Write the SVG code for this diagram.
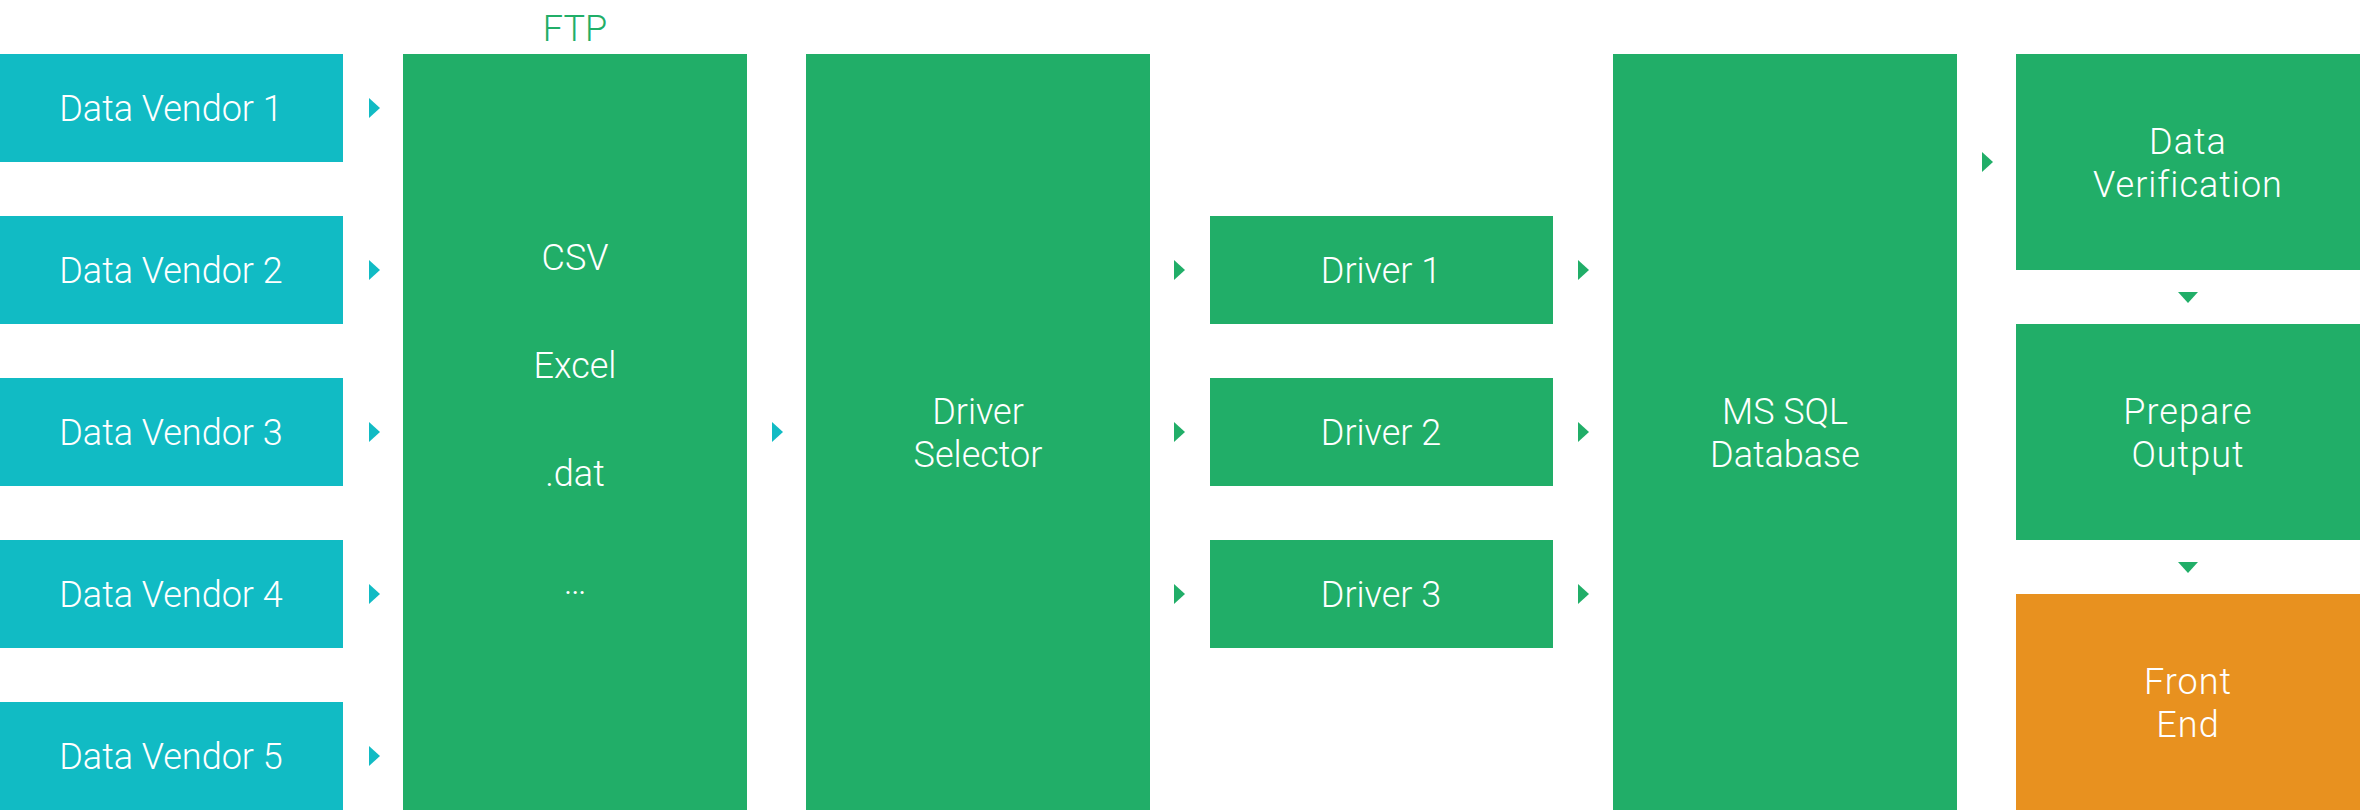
<svg xmlns="http://www.w3.org/2000/svg" width="2360" height="810" viewBox="0 0 2360 810">
<style>
.teal{fill:#11BBC4}
.green{fill:#21AE68}
.orange{fill:#E8911F}
text{font-family:Roboto,"Liberation Sans",Arial,sans-serif;font-weight:300;font-size:36px;fill:#FFFFFF;text-anchor:middle}
.wide{letter-spacing:1px}
.lbl{fill:#21AE68}
.ta{fill:#11BBC4}
.ga{fill:#21AE68}
</style>
<rect width="2360" height="810" fill="#FFFFFF"/>
<g id="vendor1"><rect class="teal" x="0" y="54" width="343" height="108"/><text x="171" y="121">Data Vendor 1</text></g>
<g id="vendor2"><rect class="teal" x="0" y="216" width="343" height="108"/><text x="171" y="283">Data Vendor 2</text></g>
<g id="vendor3"><rect class="teal" x="0" y="378" width="343" height="108"/><text x="171" y="445">Data Vendor 3</text></g>
<g id="vendor4"><rect class="teal" x="0" y="540" width="343" height="108"/><text x="171" y="607">Data Vendor 4</text></g>
<g id="vendor5"><rect class="teal" x="0" y="702" width="343" height="108"/><text x="171" y="769">Data Vendor 5</text></g>
<g id="ftp">
<text class="lbl" x="575" y="41">FTP</text>
<rect class="green" x="403" y="54" width="344" height="756"/>
<text x="575" y="270">CSV</text>
<text x="575" y="378">Excel</text>
<text x="575" y="486">.dat</text>
<text x="575" y="594">…</text>
</g>
<g id="driver-selector"><rect class="green" x="806" y="54" width="344" height="756"/><text x="978" y="424">Driver</text><text x="978" y="467">Selector</text></g>
<g id="driver1"><rect class="green" x="1210" y="216" width="343" height="108"/><text x="1381" y="283">Driver 1</text></g>
<g id="driver2"><rect class="green" x="1210" y="378" width="343" height="108"/><text x="1381" y="445">Driver 2</text></g>
<g id="driver3"><rect class="green" x="1210" y="540" width="343" height="108"/><text x="1381" y="607">Driver 3</text></g>
<g id="mssql"><rect class="green" x="1613" y="54" width="344" height="756"/><text x="1785" y="424">MS SQL</text><text x="1785" y="467">Database</text></g>
<g id="data-verification"><rect class="green" x="2016" y="54" width="344" height="216"/><text class="wide" x="2188" y="154">Data</text><text class="wide" x="2188" y="197">Verification</text></g>
<g id="prepare-output"><rect class="green" x="2016" y="324" width="344" height="216"/><text class="wide" x="2188" y="424">Prepare</text><text class="wide" x="2188" y="467">Output</text></g>
<g id="front-end"><rect class="orange" x="2016" y="594" width="344" height="216"/><text class="wide" x="2188" y="694">Front</text><text class="wide" x="2188" y="737">End</text></g>
<g id="connectors">
<polygon class="ta" points="369,98 380,108 369,118"/>
<polygon class="ta" points="369,260 380,270 369,280"/>
<polygon class="ta" points="369,422 380,432 369,442"/>
<polygon class="ta" points="369,584 380,594 369,604"/>
<polygon class="ta" points="369,746 380,756 369,766"/>
<polygon class="ta" points="772,422 783,432 772,442"/>
<polygon class="ga" points="1174,260 1185,270 1174,280"/>
<polygon class="ga" points="1174,422 1185,432 1174,442"/>
<polygon class="ga" points="1174,584 1185,594 1174,604"/>
<polygon class="ga" points="1578,260 1589,270 1578,280"/>
<polygon class="ga" points="1578,422 1589,432 1578,442"/>
<polygon class="ga" points="1578,584 1589,594 1578,604"/>
<polygon class="ga" points="1982,152 1993,162 1982,172"/>
<polygon class="ga" points="2178,292 2198,292 2188,303"/>
<polygon class="ga" points="2178,562 2198,562 2188,573"/>
</g>
</svg>
